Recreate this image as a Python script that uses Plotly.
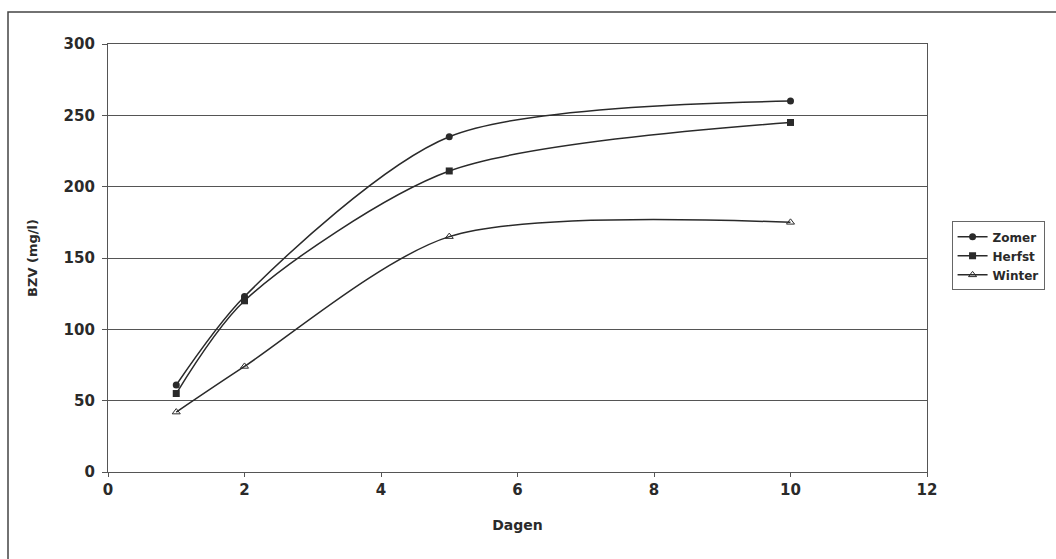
import plotly.graph_objects as go

# BZV (biochemical oxygen demand) measured after a number of days, per season
dagen = [1, 2, 5, 10]
zomer = [61, 123, 235, 260]
herfst = [55, 120, 211, 245]
winter = [42, 74, 165, 175]

x_ticks = [0, 2, 4, 6, 8, 10, 12]
y_ticks = [0, 50, 100, 150, 200, 250, 300]

INK = "#2a2a2a"
FAMILY = "DejaVu Sans, Liberation Sans, Arial, sans-serif"
FONT = dict(family=FAMILY, size=13, color=INK, weight="bold")

fig = go.Figure()

series = [
    ("Zomer", zomer, dict(symbol="circle", size=7, color=INK)),
    ("Herfst", herfst, dict(symbol="square", size=7, color=INK)),
    ("Winter", winter, dict(symbol="triangle-up-open", size=7, color=INK, line=dict(width=1, color=INK))),
]
for name, values, marker in series:
    fig.add_trace(go.Scatter(
        x=dagen, y=values, name=name, mode="lines+markers",
        line=dict(color=INK, width=1.5, shape="spline", smoothing=0.8),
        marker=marker,
    ))

fig.update_layout(
    width=1056, height=559,
    margin=dict(l=108, r=129, t=44, b=87, autoexpand=False),
    paper_bgcolor="white", plot_bgcolor="white",
    font=FONT,
    showlegend=True,
    legend=dict(
        x=1.03, xanchor="left", y=0.505, yanchor="middle",
        bordercolor="#666", borderwidth=1, bgcolor="white",
        font=dict(family=FAMILY, size=12, color=INK, weight="bold"),
        itemwidth=30, tracegroupgap=4,
    ),
    shapes=[
        # outer frame around the whole chart
        dict(type="rect", xref="paper", yref="paper",
             x0=(8 - 108) / 819, x1=1.2, y0=-0.3, y1=(472 - 12) / 428,
             line=dict(color="#444", width=1.5), fillcolor="rgba(0,0,0,0)", layer="below"),
    ],
)

fig.update_xaxes(
    range=[0, 12], tickvals=x_ticks, ticktext=[str(v) for v in x_ticks],
    showgrid=False, zeroline=False,
    showline=True, linecolor="#555", linewidth=1.2, mirror=True,
    ticks="outside", ticklen=4, tickcolor="#555",
    title=dict(text="Dagen", font=dict(family=FAMILY, size=14, color=INK, weight="bold"), standoff=22),
    tickfont=dict(family=FAMILY, size=15, color=INK, weight="bold"),
)
fig.update_yaxes(
    range=[0, 300], tickvals=y_ticks, ticktext=[str(v) for v in y_ticks],
    showgrid=True, gridcolor="#555", gridwidth=1, zeroline=False,
    showline=True, linecolor="#555", linewidth=1.2, mirror=True,
    ticks="outside", ticklen=5, tickcolor="#555", ticklabelstandoff=4,
    title=dict(text="BZV (mg/l)", font=dict(family=FAMILY, size=13, color=INK, weight="bold"), standoff=23),
    tickfont=dict(family=FAMILY, size=15, color=INK, weight="bold"),
)

fig.write_html("out.html")
